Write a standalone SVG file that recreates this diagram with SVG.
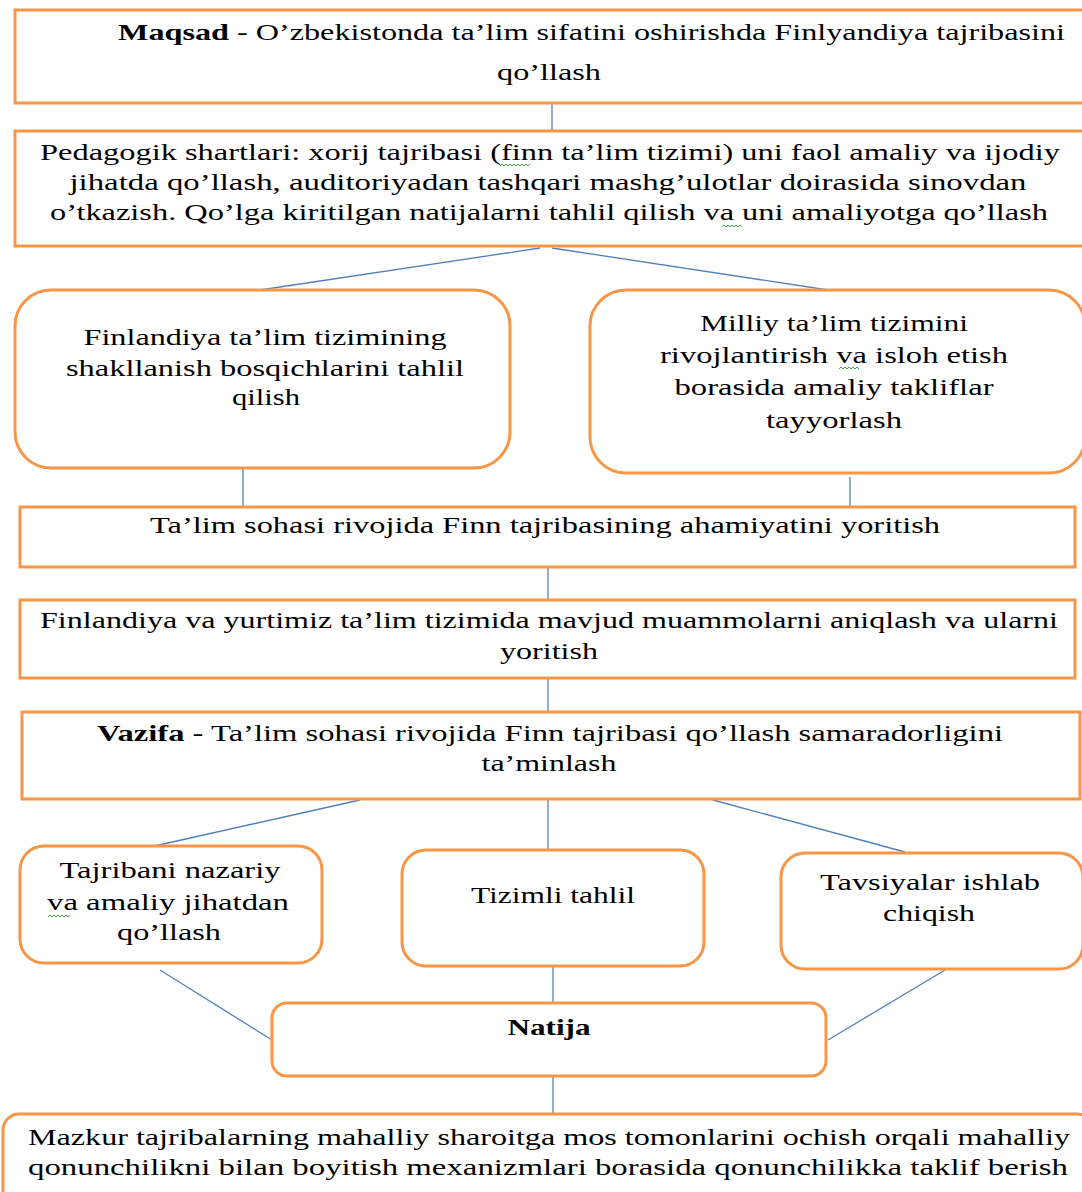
<svg xmlns="http://www.w3.org/2000/svg" width="1082" height="1192" viewBox="0 0 1082 1192">
<style>
.box{fill:#fff;stroke:#F79646;stroke-width:3}
.c{stroke:#4F81BD;stroke-width:1.3;fill:none}
text{font-family:"Liberation Serif","Times New Roman",serif;font-size:24px;fill:#000}
.m{text-anchor:middle}
.b{font-weight:bold}
.sq{stroke:#3BA33B;stroke-width:1;fill:none}
</style>
<rect width="1082" height="1192" fill="#fff"/>
<g id="connectors">
<line class="c" x1="552" y1="103" x2="552" y2="131"/>
<line class="c" x1="540" y1="248" x2="260" y2="290"/>
<line class="c" x1="552" y1="248" x2="828" y2="290"/>
<line class="c" x1="243" y1="468" x2="243" y2="507"/>
<line class="c" x1="850" y1="477" x2="850" y2="507"/>
<line class="c" x1="548" y1="567" x2="548" y2="600"/>
<line class="c" x1="548" y1="678" x2="548" y2="712"/>
<line class="c" x1="360" y1="800" x2="150" y2="847"/>
<line class="c" x1="548" y1="800" x2="548" y2="850"/>
<line class="c" x1="713" y1="800" x2="905" y2="852"/>
<line class="c" x1="160" y1="970" x2="272" y2="1040"/>
<line class="c" x1="553" y1="966" x2="553" y2="1003"/>
<line class="c" x1="945" y1="970" x2="828" y2="1040"/>
<line class="c" x1="553" y1="1076" x2="553" y2="1114"/>
</g>
<g id="maqsad">
<rect class="box" x="15" y="10" width="1070" height="93"/>
<text x="118" y="40" textLength="947" lengthAdjust="spacingAndGlyphs"><tspan class="b">Maqsad</tspan> - O’zbekistonda ta’lim sifatini oshirishda Finlyandiya tajribasini</text>
<text class="m" x="549" y="80" textLength="104" lengthAdjust="spacingAndGlyphs">qo’llash</text>
</g>
<g id="pedagogik">
<rect class="box" x="15" y="131" width="1070" height="115"/>
<text class="m" x="550" y="160" textLength="1020" lengthAdjust="spacingAndGlyphs">Pedagogik shartlari: xorij tajribasi (finn ta’lim tizimi) uni faol amaliy va ijodiy</text>
<text class="m" x="548" y="190" textLength="957" lengthAdjust="spacingAndGlyphs">jihatda qo’llash, auditoriyadan tashqari mashg’ulotlar doirasida sinovdan</text>
<text class="m" x="549" y="220" textLength="998" lengthAdjust="spacingAndGlyphs">o’tkazish. Qo’lga kiritilgan natijalarni tahlil qilish va uni amaliyotga qo’llash</text>
<path class="sq" d="M500 166 l2 -2 l2 2 l2 -2 l2 2 l2 -2 l2 2 l2 -2 l2 2 l2 -2 l2 2 l2 -2 l2 2 l2 -2 l2 2 l2 -2"/>
<path class="sq" d="M722 227 l2 -2 l2 2 l2 -2 l2 2 l2 -2 l2 2 l2 -2 l2 2 l2 -2 l2 2"/>
</g>
<g id="finlandiya-tahlil">
<rect class="box" x="15" y="290" width="495" height="178" rx="36"/>
<text class="m" x="265" y="345" textLength="363" lengthAdjust="spacingAndGlyphs">Finlandiya ta’lim tizimining</text>
<text class="m" x="265" y="376" textLength="398" lengthAdjust="spacingAndGlyphs">shakllanish bosqichlarini tahlil</text>
<text class="m" x="266" y="405" textLength="68" lengthAdjust="spacingAndGlyphs">qilish</text>
</g>
<g id="milliy">
<rect class="box" x="590" y="290" width="495" height="183" rx="36"/>
<text class="m" x="834" y="331" textLength="268" lengthAdjust="spacingAndGlyphs">Milliy ta’lim tizimini</text>
<text class="m" x="834" y="363" textLength="348" lengthAdjust="spacingAndGlyphs">rivojlantirish va isloh etish</text>
<text class="m" x="834" y="395" textLength="319" lengthAdjust="spacingAndGlyphs">borasida amaliy takliflar</text>
<text class="m" x="834" y="428" textLength="136" lengthAdjust="spacingAndGlyphs">tayyorlash</text>
<path class="sq" d="M839 369 l2 -2 l2 2 l2 -2 l2 2 l2 -2 l2 2 l2 -2 l2 2 l2 -2 l2 2"/>
</g>
<g id="ahamiyat">
<rect class="box" x="20" y="507" width="1055" height="60"/>
<text class="m" x="545" y="533" textLength="790" lengthAdjust="spacingAndGlyphs">Ta’lim sohasi rivojida Finn tajribasining ahamiyatini yoritish</text>
</g>
<g id="muammolar">
<rect class="box" x="20" y="600" width="1055" height="78"/>
<text class="m" x="549" y="628" textLength="1018" lengthAdjust="spacingAndGlyphs">Finlandiya va yurtimiz ta’lim tizimida mavjud muammolarni aniqlash va ularni</text>
<text class="m" x="549" y="659" textLength="98" lengthAdjust="spacingAndGlyphs">yoritish</text>
</g>
<g id="vazifa">
<rect class="box" x="22" y="712" width="1058" height="87"/>
<text class="m" x="550" y="741" textLength="906" lengthAdjust="spacingAndGlyphs"><tspan class="b">Vazifa</tspan> - Ta’lim sohasi rivojida Finn tajribasi qo’llash samaradorligini</text>
<text class="m" x="549" y="771" textLength="135" lengthAdjust="spacingAndGlyphs">ta’minlash</text>
</g>
<g id="tajribani">
<rect class="box" x="20" y="846" width="302" height="117" rx="24"/>
<text class="m" x="170" y="878" textLength="221" lengthAdjust="spacingAndGlyphs">Tajribani nazariy</text>
<text class="m" x="168" y="910" textLength="242" lengthAdjust="spacingAndGlyphs">va amaliy jihatdan</text>
<text class="m" x="169" y="940" textLength="104" lengthAdjust="spacingAndGlyphs">qo’llash</text>
<path class="sq" d="M48 917 l2 -2 l2 2 l2 -2 l2 2 l2 -2 l2 2 l2 -2 l2 2 l2 -2 l2 2 l2 -2"/>
</g>
<g id="tizimli">
<rect class="box" x="402" y="850" width="302" height="116" rx="24"/>
<text class="m" x="553" y="903" textLength="164" lengthAdjust="spacingAndGlyphs">Tizimli tahlil</text>
</g>
<g id="tavsiyalar">
<rect class="box" x="781" y="853" width="302" height="116" rx="24"/>
<text class="m" x="930" y="890" textLength="220" lengthAdjust="spacingAndGlyphs">Tavsiyalar ishlab</text>
<text class="m" x="929" y="921" textLength="92" lengthAdjust="spacingAndGlyphs">chiqish</text>
</g>
<g id="natija">
<rect class="box" x="272" y="1003" width="554" height="73" rx="15"/>
<text class="m b" x="549" y="1035" textLength="83" lengthAdjust="spacingAndGlyphs">Natija</text>
</g>
<g id="taklif">
<rect class="box" x="3" y="1114" width="1090" height="100" rx="16"/>
<text x="28" y="1145" textLength="1042" lengthAdjust="spacingAndGlyphs">Mazkur tajribalarning mahalliy sharoitga mos tomonlarini ochish orqali mahalliy</text>
<text x="28" y="1175" textLength="1040" lengthAdjust="spacingAndGlyphs">qonunchilikni bilan boyitish mexanizmlari borasida qonunchilikka taklif berish</text>
</g>
</svg>
